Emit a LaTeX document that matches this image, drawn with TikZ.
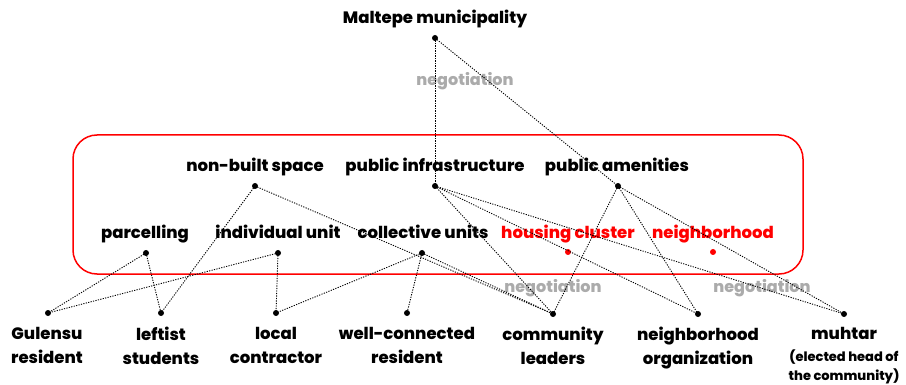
\documentclass[tikz,border=0pt]{standalone}
\usepackage{fontspec}
\setmainfont{Poppins}[BoldFont={Poppins ExtraBold}]
\begin{document}
\begin{tikzpicture}[x=1pt,y=-1pt,
  dot/.style={circle,fill=black,inner sep=0pt,minimum size=6pt},
  rdot/.style={circle,fill=red,inner sep=0pt,minimum size=6pt},
  lbl/.style={font=\bfseries\fontsize{16.5}{24}\selectfont,align=center,inner sep=0pt},
  rlbl/.style={lbl,text=red},
  neg/.style={font=\bfseries\fontsize{16}{20}\selectfont,text=black!33,inner sep=0pt},
  link/.style={dash pattern=on 1.2pt off 1.3pt,line width=0.9pt}]
\useasboundingbox (0,0) rectangle (906,385);
\draw[red,line width=1.5pt,rounded corners=24pt] (73,135) rectangle (803,274);
% labels
\node[lbl,anchor=base] (tM) at (435,24) {Maltepe municipality};
\node[lbl,anchor=base] (tNB) at (255,172) {non-built space};
\node[lbl,anchor=base] (tPI) at (435,172) {public infrastructure};
\node[lbl,anchor=base] (tPA) at (617,172) {public amenities};
\node[lbl,anchor=base] (tP) at (145,239) {parcelling};
\node[lbl,anchor=base] (tIU) at (278,239) {individual unit};
\node[lbl,anchor=base] (tCU) at (423,239) {collective units};
\node[rlbl,anchor=base] (tHC) at (568,239) {housing cluster};
\node[rlbl,anchor=base] (tN) at (713,239) {neighborhood};
\node[lbl,anchor=north] (tG) at (47,327) {Gulensu\\resident};
\node[lbl,anchor=north] (tL) at (161,327) {leftist\\students};
\node[lbl,anchor=north] (tLC) at (276,327) {local\\contractor};
\node[lbl,anchor=north] (tWC) at (407,327) {well-connected\\resident};
\node[lbl,anchor=north] (tCL) at (553,327) {community\\leaders};
\node[lbl,anchor=north] (tNO) at (698,327) {neighborhood\\organization};
\node[lbl,anchor=north] (tMU) at (844,327) {muhtar};
\node[lbl,anchor=north,font=\bfseries\fontsize{13}{19}\selectfont] (tMU2) at (844,350) {(elected head of\\the community)};
\node[neg,anchor=base] (n1) at (465,86) {negotiation};
\node[neg,anchor=base] (n2) at (553,292) {negotiation};
\node[neg,anchor=base] (n3) at (762,292) {negotiation};
% dots
\node[dot] (M) at (435,38) {};
\node[dot] (NB) at (255,186) {};
\node[dot] (PI) at (435,186) {};
\node[dot] (PA) at (618,186) {};
\node[dot] (P) at (146,253) {};
\node[dot] (IU) at (278,253) {};
\node[dot] (CU) at (422,253) {};
\node[rdot] (HC) at (568,252) {};
\node[rdot] (N) at (713,252) {};
\node[dot] (G) at (48,313) {};
\node[dot] (L) at (161,313) {};
\node[dot] (LC) at (276,313) {};
\node[dot] (WC) at (407,313) {};
\node[dot] (CL) at (553,314) {};
\node[dot] (NO) at (698,314) {};
\node[dot] (MU) at (844,314) {};
% links
\foreach \a/\b in {M/PI,M/PA,NB/L,NB/CL,PI/CL,PI/NO,PI/MU,PA/CL,PA/NO,PA/MU,P/G,P/L,IU/G,IU/LC,CU/LC,CU/WC,CU/CL}
  \draw[link] (\a.center) -- (\b.center);
\end{tikzpicture}
\end{document}
